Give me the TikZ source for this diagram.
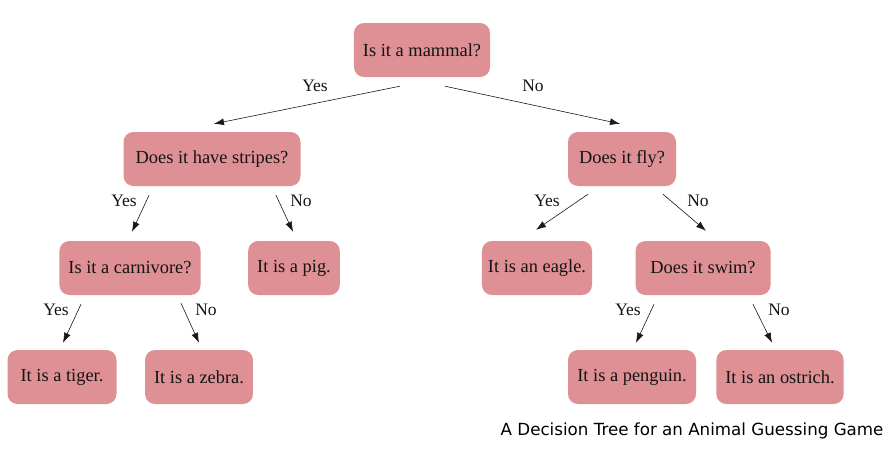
\documentclass[tikz,border=0pt]{standalone}
\usepackage{fontspec}
\usepackage{tikz}
\usetikzlibrary{arrows.meta,calc}
\setmainfont{Liberation Serif}
\newfontfamily\captionfont{DejaVu Sans}
\definecolor{nodepink}{HTML}{DE9094}
\definecolor{textdark}{HTML}{141414}

\begin{document}
\begin{tikzpicture}[x=1pt, y=-1pt,
    treebox/.style={draw=none, fill=nodepink, rounded corners=10pt,
        minimum height=54pt, inner xsep=9pt, text=textdark,
        font=\fontsize{18.4}{22}\selectfont},
    branch/.style={-{Latex[length=10pt,width=7pt]}, semithick, black!90},
    answer/.style={text=textdark, font=\fontsize{17.5}{21}\selectfont}]
    \useasboundingbox (0,0) rectangle (892,458);

    % Define the questions and the guesses
    \node[treebox] (mammal) at (422,50) {Is it a mammal?};
    \node[treebox, minimum width=177pt] (stripes) at (212,159) {Does it have stripes?};
    \node[treebox, minimum width=108pt] (fly) at (622,159) {Does it fly?};
    \node[treebox] (carnivore) at (130,268) {Is it a carnivore?};
    \node[treebox] (pig) at (294,268) {It is a pig.};
    \node[treebox, inner xsep=6pt] (eagle) at (537,268) {It is an eagle.};
    \node[treebox, minimum width=135pt] (swim) at (703,268) {Does it swim?};
    \node[treebox, minimum width=109pt] (tiger) at (62,377) {It is a tiger.};
    \node[treebox] (zebra) at (199,377) {It is a zebra.};
    \node[treebox, minimum width=128pt] (penguin) at (632,377) {It is a penguin.};
    \node[treebox] (ostrich) at (780,377) {It is an ostrich.};

    % Draw the branches
    \draw[branch] ([xshift=-22pt,yshift=-9pt]mammal.south) -- ([xshift=2pt,yshift=8pt]stripes.north);
    \draw[branch] ([xshift=23pt,yshift=-9pt]mammal.south) -- ([xshift=-2pt,yshift=8pt]fly.north);
    \draw[branch] ([xshift=-63pt,yshift=-9pt]stripes.south) -- ([xshift=2pt,yshift=9pt]carnivore.north);
    \draw[branch] ([xshift=64pt,yshift=-9pt]stripes.south) -- ([xshift=-1pt,yshift=9pt]pig.north);
    \draw[branch] ([xshift=-34pt,yshift=-8pt]fly.south) -- ([xshift=-1pt,yshift=11pt]eagle.north);
    \draw[branch] ([xshift=41pt,yshift=-8pt]fly.south) -- ([xshift=3pt,yshift=10pt]swim.north);
    \draw[branch] ([xshift=-49pt,yshift=-9pt]carnivore.south) -- ([xshift=1pt,yshift=7pt]tiger.north);
    \draw[branch] ([xshift=51pt,yshift=-8pt]carnivore.south) -- ([xshift=0pt,yshift=7pt]zebra.north);
    \draw[branch] ([xshift=-49pt,yshift=-9pt]swim.south) -- ([xshift=4pt,yshift=7pt]penguin.north);
    \draw[branch] ([xshift=50pt,yshift=-9pt]swim.south) -- ([xshift=-8pt,yshift=7pt]ostrich.north);

    % Add the answers
    \node[answer] (yesmammal) at (315,86) {Yes};
    \node[answer] (nomammal) at (533,86) {No};
    \node[answer] (yesstripes) at (124,201) {Yes};
    \node[answer] (nostripes) at (301,201) {No};
    \node[answer] (yesfly) at (547,201) {Yes};
    \node[answer] (nofly) at (698,201) {No};
    \node[answer] (yescarnivore) at (56,310) {Yes};
    \node[answer] (nocarnivore) at (206,310) {No};
    \node[answer] (yesswim) at (628,310) {Yes};
    \node[answer] (noswim) at (779,310) {No};

    % Add the caption
    \node[anchor=east, font=\captionfont\fontsize{16.7}{20}\selectfont] (caption) at (887,431)
        {A Decision Tree for an Animal Guessing Game};
\end{tikzpicture}
\end{document}
